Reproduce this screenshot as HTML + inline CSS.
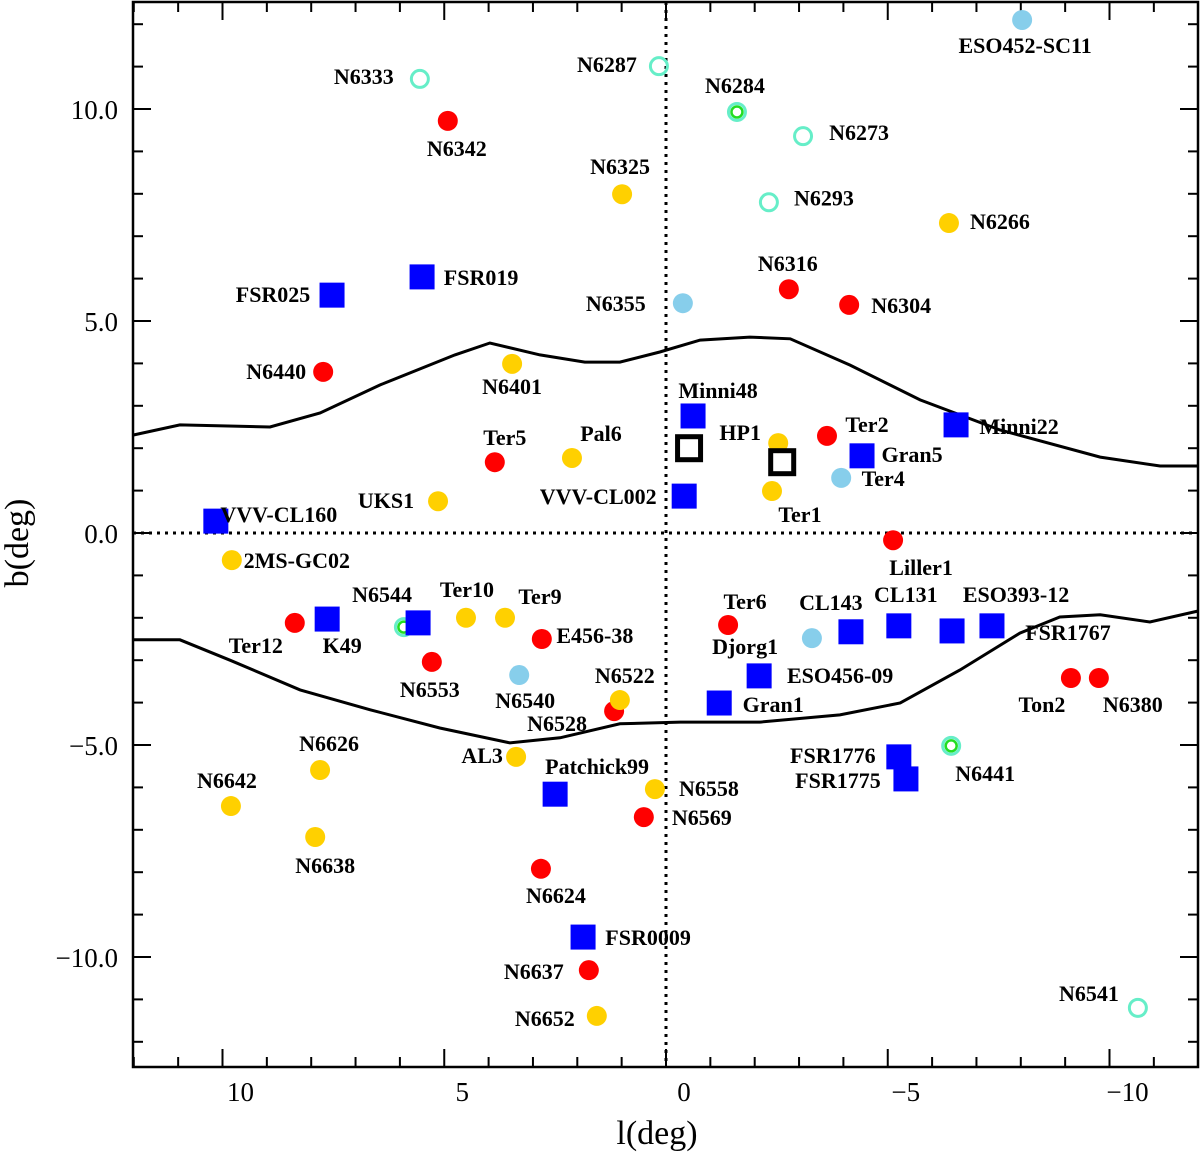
<!DOCTYPE html>
<html><head><meta charset="utf-8"><style>
html,body{margin:0;padding:0;background:#fff;}
svg{display:block;}
.lbl{font-family:"Liberation Serif",serif;font-size:22px;font-weight:bold;fill:#000;}
.tick{font-family:"Liberation Serif",serif;font-size:27px;fill:#000;}
</style></head><body>
<svg id="chart" width="1200" height="1152" viewBox="0 0 1200 1152" xmlns="http://www.w3.org/2000/svg">
<g id="plot"></g>
</svg>
<script>
// galactic longitude/latitude data (deg)
const redL=[4.92,-2.77,-4.13,7.73,3.86,-3.63,-5.12,8.37,5.28,2.80,-1.40,1.17,0.50,2.82,1.74,-9.13,-9.76];
const redB=[9.72,5.75,5.38,3.80,1.67,2.29,-0.17,-2.12,-3.04,-2.50,-2.17,-4.20,-6.70,-7.92,-10.31,-3.42,-3.42];
const redNames=["N6342","N6316","N6304","N6440","Ter5","Ter2","Liller1","Ter12","N6553","E456-38","Ter6","N6528","N6569","N6624","N6637","Ton2","N6380"];
const yelL=[0.99,-6.38,3.47,2.12,-2.53,-2.39,5.14,9.79,4.51,3.63,1.04,3.38,0.25,7.80,9.81,7.91,1.56];
const yelB=[7.99,7.31,3.99,1.77,2.12,0.99,0.75,-0.64,-2.00,-2.00,-3.94,-5.28,-6.04,-5.59,-6.44,-7.17,-11.39];
const yelNames=["N6325","N6266","N6401","Pal6","HP1","Ter1","UKS1","2MS-GC02","Ter10","Ter9","N6522","AL3","N6558","N6626","N6642","N6638","N6652"];
const lbL=[-8.03,-0.38,-3.95,-3.29,3.31];
const lbB=[12.10,5.42,1.30,-2.48,-3.35];
const lbNames=["ESO452-SC11","N6355","Ter4","CL143","N6540"];
const openL=[5.55,0.16,-3.09,-2.32,-10.64];
const openB=[10.71,11.01,9.36,7.80,-11.20];
const openNames=["N6333","N6287","N6273","N6293","N6541"];
const ringL=[-1.60,-6.43,5.91];
const ringB=[9.93,-5.02,-2.22];
const ringNames=["N6284","N6441",""];
const sqL=[7.53,5.50,-0.61,-6.54,-4.42,-0.41,10.15,7.64,5.59,-5.25,-4.17,-6.45,-7.35,-2.10,-1.20,-5.25,-5.41,2.50,1.87];
const sqB=[5.61,6.04,2.76,2.55,1.82,0.87,0.28,-2.03,-2.12,-2.19,-2.33,-2.31,-2.19,-3.37,-4.01,-5.28,-5.80,-6.16,-9.53];
const sqNames=["FSR025","FSR019","Minni48","Minni22","Gran5","VVV-CL002","VVV-CL160","K49","N6544","CL131","","ESO393-12","FSR1767","ESO456-09","Gran1","FSR1776","FSR1775","Patchick99","FSR0009"];
const bsqL=[-0.52,-2.62];
const bsqB=[2.00,1.67];
const upL=[12.02,10.96,8.93,7.80,6.45,4.76,3.97,2.84,1.83,1.04,0.14,-0.77,-1.89,-2.80,-4.15,-5.73,-7.53,-9.79,-11.14,-12.0];
const upB=[2.31,2.55,2.50,2.83,3.49,4.20,4.48,4.20,4.03,4.03,4.27,4.55,4.62,4.58,3.96,3.14,2.43,1.79,1.58,1.58];
const loL=[12.02,10.96,9.83,8.25,6.67,5.10,3.52,2.39,1.04,-0.32,-2.12,-3.92,-5.28,-6.63,-7.98,-8.88,-9.79,-10.91,-12.0];
const loB=[-2.52,-2.52,-3.00,-3.70,-4.17,-4.60,-4.95,-4.83,-4.50,-4.46,-4.46,-4.29,-4.01,-3.23,-2.36,-1.98,-1.93,-2.10,-1.84];
const xTicks=[10,5,0,-5,-10];
const xTickLabels=["10","5","0","\u22125","\u221210"];
const yTicks=[10,5,0,-5,-10];
const yTickLabels=["10.0","5.0","0.0","\u22125.0","\u221210.0"];

// label offsets in px (layout)
const redOff=[[9,28],[-1,-25],[52,1],[-47,0],[10,-24],[40,-11],[28,28],[-39,23],[-2,28],[53,-3],[17,-23],[-57,13],[58,1],[15,27],[-55,2],[-29,27],[34,27]];
const yelOff=[[-2,-27],[51,-1],[0,23],[29,-24],[-38,-10],[28,24],[-52,0],[65,1],[1,-28],[35,-21],[5,-24],[-34,-1],[54,0],[9,-26],[-4,-25],[10,29],[-52,3]];
const lbOff=[[3,26],[-67,1],[42,1],[19,-35],[6,26]];
const openOff=[[-56,-2],[-52,-1],[56,-3],[55,-4],[-49,-14]];
const ringOff=[[-2,-26],[34,28],[0,0]];
const sqOff=[[-59,0],[59,1],[25,-25],[63,2],[50,-1],[-86,1],[63,-6],[15,27],[-36,-28],[7,-31],[0,0],[64,-36],[76,7],[81,0],[54,2],[-66,-1],[-68,2],[42,-27],[65,1]];

const X0=133,X1=1198,Y0=2,Y1=1067;
const sx=l=>666-44.35*l;
const sy=b=>533-42.4*b;
const NS="http://www.w3.org/2000/svg";
const g=document.getElementById('plot');
function mk(tag,attrs,parent){const e=document.createElementNS(NS,tag);for(const k in attrs)e.setAttribute(k,attrs[k]);(parent||g).appendChild(e);return e;}
function label(txt,x,y){if(!txt)return;const t=mk('text',{x:x,y:y+7,'text-anchor':'middle',class:'lbl'});t.textContent=txt;

}

// reference lines
const hl=mk('line',{x1:X0,x2:X1,y1:sy(0),y2:sy(0),stroke:'#000','stroke-width':3,'stroke-dasharray':'3,5'});


const vl=mk('line',{x1:sx(0),x2:sx(0),y1:Y0,y2:Y1,stroke:'#000','stroke-width':3,'stroke-dasharray':'3,5'});



// curves
function curve(L,B,name){const d=L.map((l,i)=>(i?'L':'M')+sx(l).toFixed(1)+' '+sy(B[i]).toFixed(1)).join(' ');
const p=mk('path',{d:d,fill:'none',stroke:'#000','stroke-width':3});

}
curve(upL,upB,'upper-boundary-curve');
curve(loL,loB,'lower-boundary-curve');

// axes frame
const fr=mk('rect',{x:X0,y:Y0,width:X1-X0,height:Y1-Y0,fill:'none',stroke:'#000','stroke-width':2.5});


for(let l=-11;l<=12;l++){const x=sx(l);const len=(l%5===0)?18:10;
mk('line',{x1:x,x2:x,y1:Y1,y2:Y1-len,stroke:'#000','stroke-width':2});
mk('line',{x1:x,x2:x,y1:Y0,y2:Y0+len,stroke:'#000','stroke-width':2});}
for(let b=-12;b<=12;b++){const y=sy(b);const len=(b%5===0)?18:10;
mk('line',{x1:X0,x2:X0+len,y1:y,y2:y,stroke:'#000','stroke-width':2});
mk('line',{x1:X1,x2:X1-len,y1:y,y2:y,stroke:'#000','stroke-width':2});}
xTicks.forEach((v,i)=>{const t=mk('text',{x:sx(v)+18,y:1101,'text-anchor':'middle',class:'tick'});t.textContent=xTickLabels[i];

});
yTicks.forEach((v,i)=>{const t=mk('text',{x:118,y:sy(v)+10,'text-anchor':'end',class:'tick'});t.textContent=yTickLabels[i];

});
const xt=mk('text',{x:657,y:1144,'text-anchor':'middle',class:'tick','font-size':'34'});xt.textContent='l(deg)';xt.style.fontSize='34px';


const yt=mk('text',{x:0,y:0,'text-anchor':'middle',class:'tick',transform:'translate(28,543) rotate(-90)'});yt.textContent='b(deg)';yt.style.fontSize='34px';



// markers
function dots(L,B,names,off,fill){L.forEach((l,i)=>{const x=sx(l),y=sy(B[i]);
const c=mk('circle',{cx:x,cy:y,r:10,fill:fill});


label(names[i],x+off[i][0],y+off[i][1]);});}
dots(redL,redB,redNames,redOff,'#ff0000');
dots(yelL,yelB,yelNames,yelOff,'#ffd000');
dots(lbL,lbB,lbNames,lbOff,'#87ceeb');
openL.forEach((l,i)=>{const x=sx(l),y=sy(openB[i]);
const c=mk('circle',{cx:x,cy:y,r:8.5,fill:'none',stroke:'#66eec8','stroke-width':3});


label(openNames[i],x+openOff[i][0],y+openOff[i][1]);});
ringL.forEach((l,i)=>{const x=sx(l),y=sy(ringB[i]);
const c=mk('circle',{cx:x,cy:y,r:8.5,fill:'none',stroke:'#66eec8','stroke-width':3});


mk('circle',{cx:x,cy:y,r:5.5,fill:'none',stroke:'#22dd22','stroke-width':2.5});
label(ringNames[i],x+ringOff[i][0],y+ringOff[i][1]);});
sqL.forEach((l,i)=>{const x=sx(l),y=sy(sqB[i]);
const r=mk('rect',{x:x-12.5,y:y-12.5,width:25,height:25,fill:'#0000ff'});


label(sqNames[i],x+sqOff[i][0],y+sqOff[i][1]);});
bsqL.forEach((l,i)=>{const x=sx(l),y=sy(bsqB[i]);
const r=mk('rect',{x:x-11.5,y:y-11.5,width:23,height:23,fill:'none',stroke:'#000','stroke-width':5});

});
// extra label
label('Djorg1',sx(-1.40)+17,sy(-2.17)+22);
</script>
</body></html>
